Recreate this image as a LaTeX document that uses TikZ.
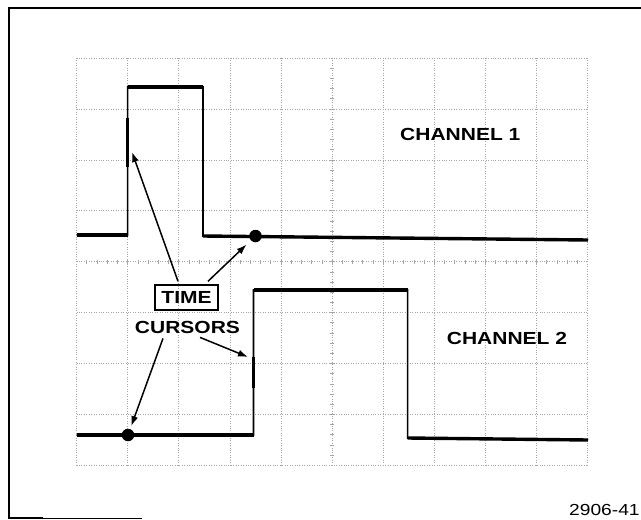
\documentclass[tikz,border=0pt]{standalone}
\usepackage{fontspec}
\newfontfamily\labelfont[FakeStretch=1.2]{Liberation Sans}
\usetikzlibrary{
    calc,
    arrows.meta
}
\newcommand{\TraceStep}[6]{%
  \draw [riser] (#1) -- (#2) -- (#3) -- (#4) -- (#5) -- (#6);
  \draw [trace] (#1) -- (#2);
  \draw [trace] (#3) -- (#4);
  \draw [trace] (#5) -- (#6);
}

\begin{document}
\begin{tikzpicture}[x=1pt,y=-1pt,
  graticule/.style={gray!70,line width=0.45pt,dotted},
  trace/.style={line width=3.4pt},
  riser/.style={line width=1.6pt},
  cursormark/.style={line width=3.6pt},
  cursordot/.style={circle,fill,inner sep=0pt,minimum size=12.5pt},
  cursorarrow/.style={line width=1.5pt,-{Latex[length=10pt,width=7pt]}},
  chanlabel/.style={font=\labelfont\bfseries\fontsize{17.5}{20}\selectfont,inner sep=0pt}
]
\useasboundingbox (0,0) rectangle (641,520);
\draw [line width=2.4pt] (641,8) -- (9,8) -- (9,518) -- (43,518);
\draw [line width=0.9pt] (43,518) -- (142,518);
\foreach \i in {0,...,10}
  \draw [graticule] (76.5+51.1*\i,58) -- (76.5+51.1*\i,465);
\foreach \j in {0,...,8}
  \draw [graticule] (76.5,58+50.9*\j) -- (587.5,58+50.9*\j);
\foreach \k in {1,...,39}
  \draw [gray!70,line width=0.45pt] (330,58+10.18*\k) -- (334,58+10.18*\k);
\foreach \k in {1,...,49}
  \draw [gray!70,line width=0.45pt] (76.5+10.22*\k,259.6) -- (76.5+10.22*\k,263.6);
\coordinate (A1) at (76.5,235);
\coordinate (B1) at (127.6,235);
\coordinate (C1) at (127.6,87);
\coordinate (D1) at (203,87);
\coordinate (E1) at (203,236);
\coordinate (F1) at (588,240);
\TraceStep{A1}{B1}{C1}{D1}{E1}{F1}
\coordinate (A2) at (76.5,435);
\coordinate (B2) at (253.5,435);
\coordinate (C2) at (253.5,290);
\coordinate (D2) at (407.6,290);
\coordinate (E2) at (407.6,438);
\coordinate (F2) at (588,440);
\TraceStep{A2}{B2}{C2}{D2}{E2}{F2}
\draw [cursormark] (127.6,118) -- (127.6,167);
\draw [cursormark] (253.5,357) -- (253.5,388);
\coordinate (tip1) at (132,152);
\coordinate (tip2) at (248,357);
\node [cursordot] (dot1) at (255.5,236) {};
\node [cursordot] (dot2) at (128,435) {};
\node [chanlabel,anchor=west] (ch1) at (400,134) {CHANNEL 1};
\node [chanlabel,anchor=west] (ch2) at (446.7,338) {CHANNEL 2};
\node [chanlabel,draw,line width=1.4pt,minimum width=63pt,minimum height=25pt] (time) at (186.5,297.5) {TIME};
\node [chanlabel] (cursors) at (187.5,327) {CURSORS};
\node [anchor=west,inner sep=0pt,font=\labelfont\fontsize{16}{18}\selectfont] (fig) at (569,509.5) {2906-41};
\draw [cursorarrow] ([xshift=-8.5pt,yshift=3pt]time.north) -- (tip1);
\draw [cursorarrow,shorten >=6pt] ([xshift=21.5pt,yshift=3pt]time.north) -- (dot1);
\draw [cursorarrow] ([xshift=12.5pt,yshift=-4pt]cursors.south) -- (tip2);
\draw [cursorarrow,shorten >=3pt] ([xshift=-24.5pt,yshift=-5pt]cursors.south) -- (dot2);
\end{tikzpicture}
\end{document}
